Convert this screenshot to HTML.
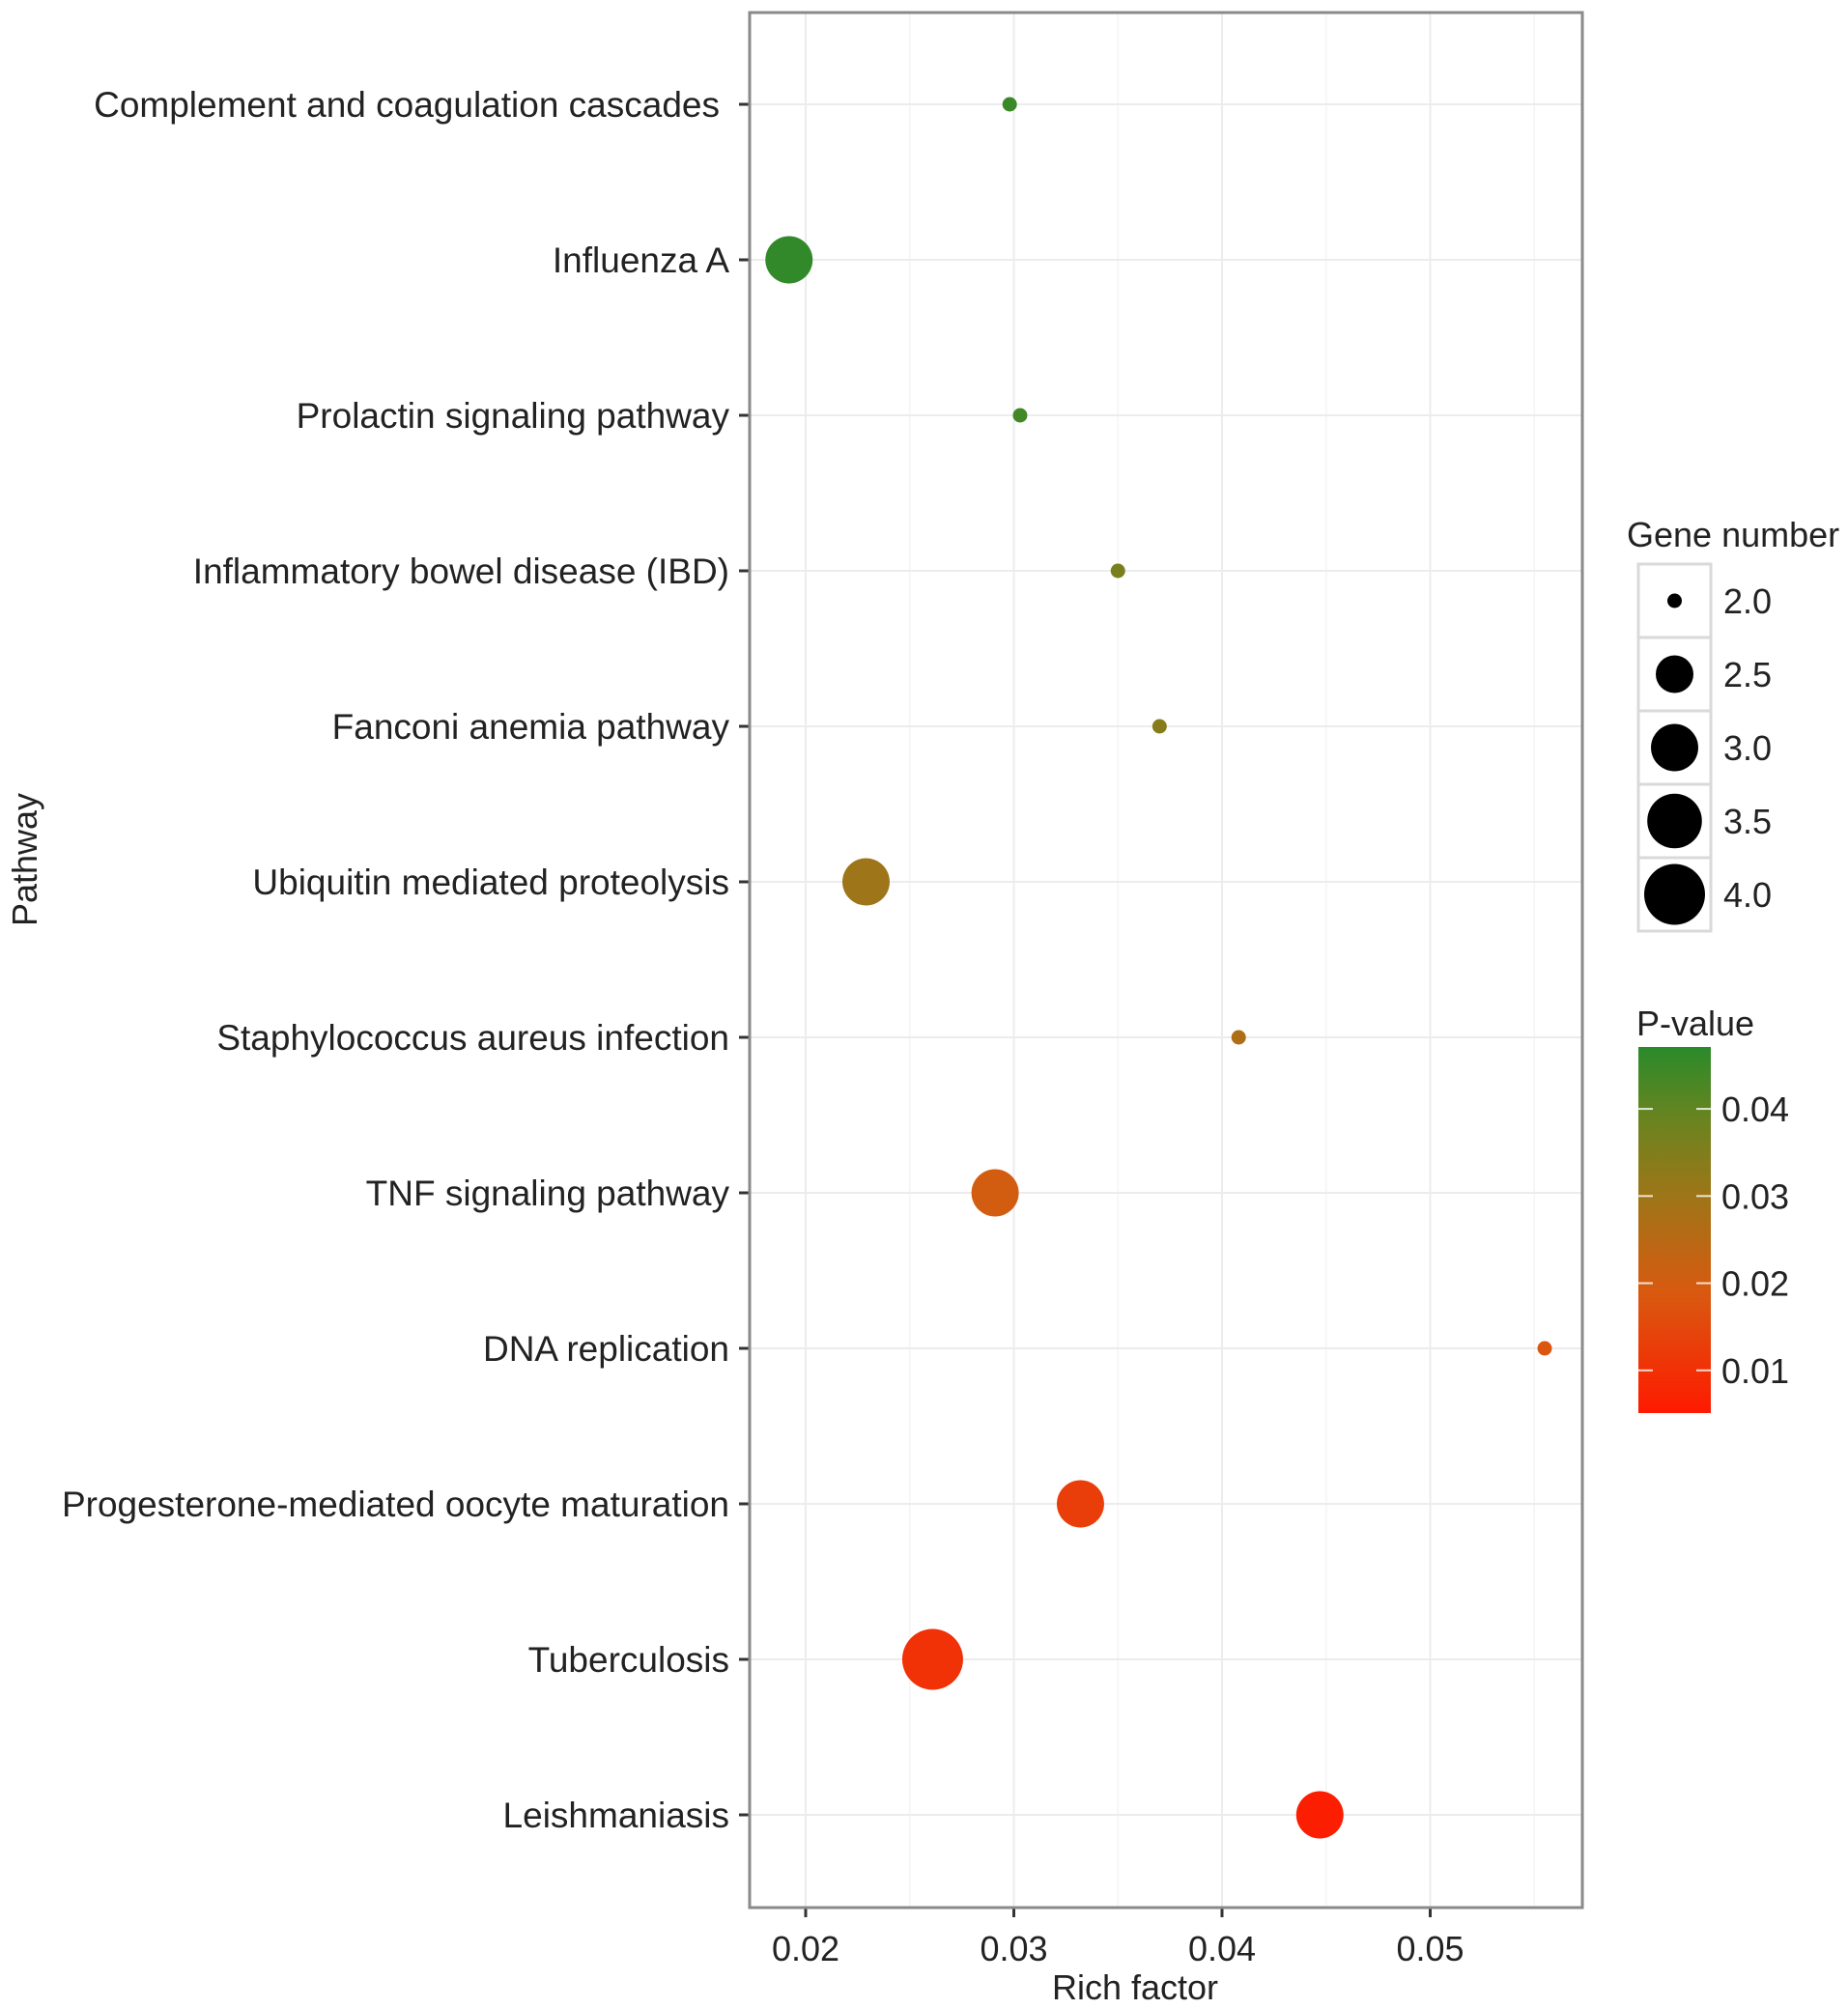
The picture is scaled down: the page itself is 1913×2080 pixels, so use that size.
<!DOCTYPE html>
<html><head><meta charset="utf-8"><style>
body{margin:0;background:#fff}
svg text{font-family:"Liberation Sans",Arial,sans-serif;fill:#222}
</style></head><body>
<svg id="chart" width="1913" height="2075" viewBox="0 0 1913 2075" xmlns="http://www.w3.org/2000/svg">
<defs><linearGradient id="pg" x1="0" y1="1" x2="0" y2="0">
<stop offset="0" stop-color="#ff1a00"/><stop offset="0.33" stop-color="#d85a10"/><stop offset="0.6" stop-color="#9c7618"/><stop offset="0.8" stop-color="#6a8420"/><stop offset="1" stop-color="#2a8a2a"/></linearGradient></defs>
<g id="plot"></g>
</svg>
<script>
const pathways=["Complement and coagulation cascades","Influenza A","Prolactin signaling pathway","Inflammatory bowel disease (IBD)","Fanconi anemia pathway","Ubiquitin mediated proteolysis","Staphylococcus aureus infection","TNF signaling pathway","DNA replication","Progesterone-mediated oocyte maturation","Tuberculosis","Leishmaniasis"];
const richFactor=[0.0298,0.0192,0.0303,0.0350,0.0370,0.0229,0.0408,0.0291,0.0555,0.0332,0.0261,0.0447];
const geneNumber=[2,3,2,2,2,3,2,3,2,3,4,3];
const pValue=[0.045,0.046,0.044,0.036,0.034,0.030,0.027,0.020,0.018,0.013,0.010,0.006];
const xTicks=[0.02,0.03,0.04,0.05];
const sizeLegend=[2.0,2.5,3.0,3.5,4.0];
const pTicks=[0.04,0.03,0.02,0.01];

const NS="http://www.w3.org/2000/svg";
const g=document.getElementById('plot');
const L=776,R=1638,T=13,B=1975;
const x=v=>834+(v-0.02)*21550;
const y=i=>108+i*161;
const rS=n=>7.5+24*Math.sqrt(Math.max(0,(n-2)/2));
const pMin=0.0051,pMax=0.0471,cbT=1084,cbB=1463;
const pY=v=>cbB-(v-pMin)/(pMax-pMin)*(cbB-cbT);
const stops=[[0,[255,26,0]],[0.33,[216,90,16]],[0.6,[156,118,24]],[0.8,[106,132,32]],[1,[42,138,42]]];
function col(p){let t=(p-pMin)/(pMax-pMin);t=Math.max(0,Math.min(1,t));
 for(let k=0;k<stops.length-1;k++){const a=stops[k],b=stops[k+1];if(t<=b[0]){const f=(t-a[0])/(b[0]-a[0]);return 'rgb('+a[1].map((c,j)=>Math.round(c+(b[1][j]-c)*f)).join(',')+')';}}
 return 'rgb(42,138,42)';}
function mk(tag,at,txt){const e=document.createElementNS(NS,tag);for(const k in at)e.setAttribute(k,at[k]);if(txt!==undefined)e.textContent=txt;g.appendChild(e);return e;}

let bg=mk('rect',{x:L,y:T,width:R-L,height:B-T,fill:'#fff'});


for(let v=0.025;v<0.06;v+=0.01){if(x(v)<R){let l=mk('line',{x1:x(v),x2:x(v),y1:T,y2:B,stroke:'#f4f4f4','stroke-width':1.5});

}}
xTicks.forEach(v=>{let l=mk('line',{x1:x(v),x2:x(v),y1:T,y2:B,stroke:'#ececec','stroke-width':2});


let t=mk('line',{x1:x(v),x2:x(v),y1:B,y2:B+10,stroke:'#333','stroke-width':3});


let tx=mk('text',{x:x(v),y:2030,'font-size':36,'text-anchor':'middle'},v.toFixed(2));

});
pathways.forEach((p,i)=>{let l=mk('line',{x1:L,x2:R,y1:y(i),y2:y(i),stroke:'#ececec','stroke-width':2});


let t=mk('line',{x1:765,x2:L,y1:y(i),y2:y(i),stroke:'#333','stroke-width':3});


let tx=mk('text',{x:i===0?745:755,y:y(i)+13,'font-size':37,'text-anchor':'end'},p);

});
pathways.forEach((p,i)=>{let c=mk('circle',{cx:x(richFactor[i]),cy:y(i),r:rS(geneNumber[i]),fill:col(pValue[i])});

});
let br=mk('rect',{x:L,y:T,width:R-L,height:B-T,fill:'none',stroke:'#8a8a8a','stroke-width':3});


let xt=mk('text',{x:1175,y:2070,'font-size':36,'text-anchor':'middle'},'Rich factor');


let yt=mk('text',{x:0,y:0,'font-size':36,'text-anchor':'middle',transform:'translate(38,890) rotate(-90)'},'Pathway');


let st=mk('text',{x:1684,y:566,'font-size':36},'Gene number');


sizeLegend.forEach((n,k)=>{const ty=584+k*76;
let bx=mk('rect',{x:1696,y:ty,width:75,height:76,fill:'#fff',stroke:'#d9d9d9','stroke-width':3});


let c=mk('circle',{cx:1733.5,cy:ty+38,r:rS(n),fill:'#000'});


let tx=mk('text',{x:1784,y:ty+51,'font-size':36},n.toFixed(1));

});
let ct=mk('text',{x:1694,y:1072,'font-size':36},'P-value');


let cb=mk('rect',{x:1696,y:cbT,width:75,height:cbB-cbT,fill:'url(#pg)'});


pTicks.forEach(v=>{const yy=pY(v);
let a=mk('line',{x1:1696,x2:1711,y1:yy,y2:yy,stroke:'#fff','stroke-width':2,opacity:0.8});


let b=mk('line',{x1:1756,x2:1771,y1:yy,y2:yy,stroke:'#fff','stroke-width':2,opacity:0.8});


let tx=mk('text',{x:1782,y:yy+13,'font-size':36},v.toFixed(2));

});
</script>
</body></html>
